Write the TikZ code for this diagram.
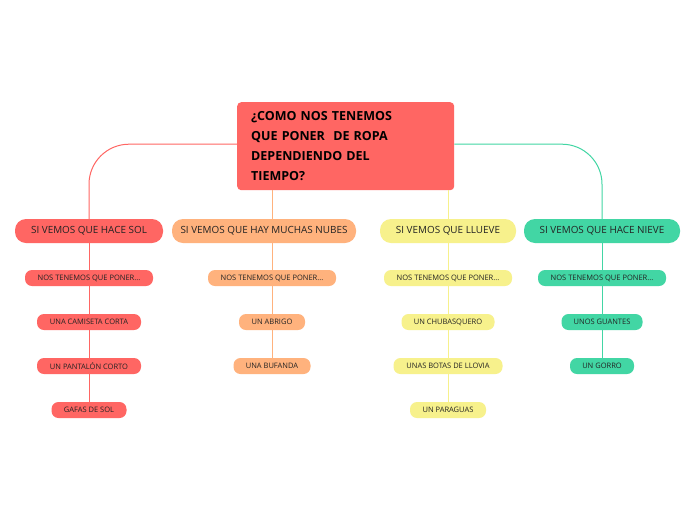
\documentclass[tikz,border=0pt]{standalone}
\usepackage{fontspec}
\setmainfont{Open Sans}
\definecolor{cred}{RGB}{255,102,99}
\definecolor{corange}{RGB}{255,178,125}
\definecolor{cyellow}{RGB}{247,241,140}
\definecolor{cgreen}{RGB}{66,214,164}
\definecolor{ctext}{RGB}{35,35,35}
\begin{document}
\begin{tikzpicture}[x=1pt,y=-1pt,
  lvone/.style={rounded corners=11pt, minimum height=24pt, inner sep=0pt, text=ctext, font=\fontsize{9.9}{11}\selectfont},
  lvtwo/.style={rounded corners=7pt, minimum height=16pt, inner sep=0pt, text=ctext, font=\fontsize{7.5}{8}\selectfont},
  link/.style={line width=1pt}]
\useasboundingbox (0,0) rectangle (696,520);
\fill[white] (0,0) rectangle (696,520);
% central node
\node[fill=cred, rounded corners=4pt, anchor=north west, minimum width=217pt, minimum height=88pt,
  inner xsep=14pt, inner ysep=0pt, text width=189pt, align=left, text=black,
  font=\fontsize{12.5}{20}\selectfont\bfseries] (c) at (237,102)
  {¿COMO NOS TENEMOS\\QUE PONER~ DE ROPA\\DEPENDIENDO DEL\\TIEMPO?};
% level 1
\node[lvone, fill=cred, minimum width=148pt] (r1) at (89,231) {SI VEMOS QUE HACE SOL};
\node[lvone, fill=corange, minimum width=184pt] (o1) at (264,231) {SI VEMOS QUE HAY MUCHAS NUBES};
\node[lvone, fill=cyellow, minimum width=136pt] (y1) at (448,231) {SI VEMOS QUE LLUEVE};
\node[lvone, fill=cgreen, minimum width=156pt] (g1) at (602,231) {SI VEMOS QUE HACE NIEVE};
% level 2 red
\node[lvtwo, fill=cred, minimum width=128pt] (r2) at (89,278) {NOS TENEMOS QUE PONER...};
\node[lvtwo, fill=cred, minimum width=104pt] (r3) at (89,322) {UNA CAMISETA CORTA};
\node[lvtwo, fill=cred, minimum width=104pt] (r4) at (89,366) {UN PANTALÓN CORTO};
\node[lvtwo, fill=cred, minimum width=75pt] (r5) at (89,410) {GAFAS DE SOL};
% level 2 orange
\node[lvtwo, fill=corange, minimum width=128pt] (o2) at (272,278) {NOS TENEMOS QUE PONER...};
\node[lvtwo, fill=corange, minimum width=66pt] (o3) at (272,322) {UN ABRIGO};
\node[lvtwo, fill=corange, minimum width=77pt] (o4) at (272,366) {UNA BUFANDA};
% level 2 yellow
\node[lvtwo, fill=cyellow, minimum width=128pt] (y2) at (448,278) {NOS TENEMOS QUE PONER...};
\node[lvtwo, fill=cyellow, minimum width=93pt] (y3) at (448,322) {UN CHUBASQUERO};
\node[lvtwo, fill=cyellow, minimum width=109pt] (y4) at (448,366) {UNAS BOTAS DE LLOVIA};
\node[lvtwo, fill=cyellow, minimum width=76pt] (y5) at (448,410) {UN PARAGUAS};
% level 2 green
\node[lvtwo, fill=cgreen, minimum width=128pt] (g2) at (602,278) {NOS TENEMOS QUE PONER...};
\node[lvtwo, fill=cgreen, minimum width=81pt] (g3) at (602,322) {UNOS GUANTES};
\node[lvtwo, fill=cgreen, minimum width=64pt] (g4) at (602,366) {UN GORRO};
% connectors
\draw[link, cred, rounded corners=40pt] ([yshift=2pt]c.west) -| (r1.north);
\draw[link, cgreen, rounded corners=40pt] ([yshift=2pt]c.east) -| (g1.north);
\draw[link, corange] (o2.north |- c.south) -- (o2.north |- o1.north);
\draw[link, cyellow] (y1.north |- c.south) -- (y1.north);
\draw[link, cred] (r1.south) -- (r2.north) (r2.south) -- (r3.north) (r3.south) -- (r4.north) (r4.south) -- (r5.north);
\draw[link, corange] (o2.north |- o1.south) -- (o2.north) (o2.south) -- (o3.north) (o3.south) -- (o4.north);
\draw[link, cyellow] (y1.south) -- (y2.north) (y2.south) -- (y3.north) (y3.south) -- (y4.north) (y4.south) -- (y5.north);
\draw[link, cgreen] (g1.south) -- (g2.north) (g2.south) -- (g3.north) (g3.south) -- (g4.north);
\end{tikzpicture}
\end{document}
